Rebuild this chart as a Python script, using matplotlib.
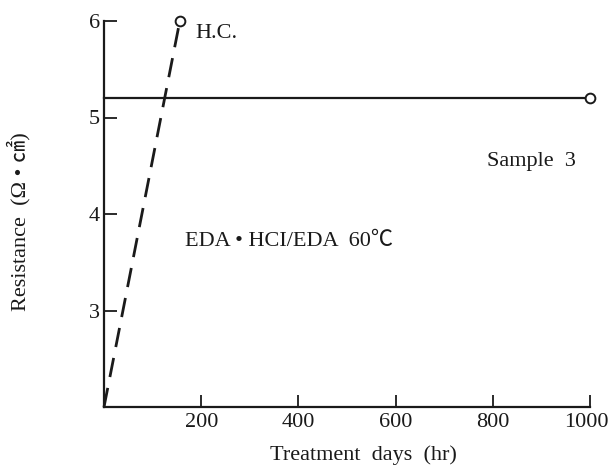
import matplotlib
matplotlib.use("Agg")
from matplotlib import pyplot as plt
from matplotlib import transforms

# data
hc_x = [0, 156]
hc_y = [2.0, 6.0]
s3_x = [0, 1000]
s3_y = [5.2, 5.2]
xticks = [200, 400, 600, 800, 1000]
yticks = [3, 4, 5, 6]

plt.rcParams['font.family'] = ['Liberation Serif', 'Noto Sans CJK JP', 'DejaVu Sans']

fig = plt.figure(figsize=(6.09, 4.71), dpi=100)
ax = fig.add_axes([104/609, 1-407/471, (590-104)/609, (407-21)/471])

# dashed H.C. line with open circle at the top
ax.plot(hc_x, hc_y, color='#1a1a1a', lw=2.0, dashes=(7, 4), clip_on=False)
ax.plot(hc_x[-1], hc_y[-1], 'o', ms=7, mfc='white', mec='#1a1a1a', mew=1.4, clip_on=False, zorder=5)

# solid sample 3 line
ax.plot(s3_x, s3_y, color='#1a1a1a', lw=1.6, clip_on=False)
ax.plot(s3_x[-1], s3_y[-1], 'o', ms=7, mfc='white', mec='#1a1a1a', mew=1.4, clip_on=False, zorder=5)

ax.set_xlim(0, 1000)
ax.set_ylim(2, 6)
ax.set_xticks(xticks)
ax.set_yticks(yticks)
ax.tick_params(direction='in', length=9, width=1.3, labelsize=16, colors='#1a1a1a')
ax.tick_params(axis='x', pad=4)
ax.tick_params(axis='y', pad=3)
for s in ['top', 'right']:
    ax.spines[s].set_visible(False)
for s in ['left', 'bottom']:
    ax.spines[s].set_linewidth(1.6)
    ax.spines[s].set_color('#1a1a1a')

# pull the last x label a little inward so it stays on the canvas
lab = ax.get_xticklabels()[-1]
lab.set_transform(lab.get_transform() + transforms.ScaledTranslation(-4/100, 0, fig.dpi_scale_trans))

ax.text(187, 5.875, 'H.C.', fontsize=16, va='center', ha='left', color='#1a1a1a')
ax.text(788, 4.54, 'Sample  3', fontsize=16, va='center', ha='left', color='#1a1a1a')
ax.text(167, 3.71, 'EDA • HCI/EDA  60℃', fontsize=16, va='center', ha='left', color='#1a1a1a')

fig.text(363/609, 1-455/471, 'Treatment  days  (hr)', fontsize=16, ha='center', va='center', color='#1a1a1a')
fig.text(19/609, 1-222/471, 'Resistance  (Ω • ㎠)', fontsize=16, rotation=90, ha='center', va='center', color='#1a1a1a')

fig.savefig('out.png', dpi=100)
